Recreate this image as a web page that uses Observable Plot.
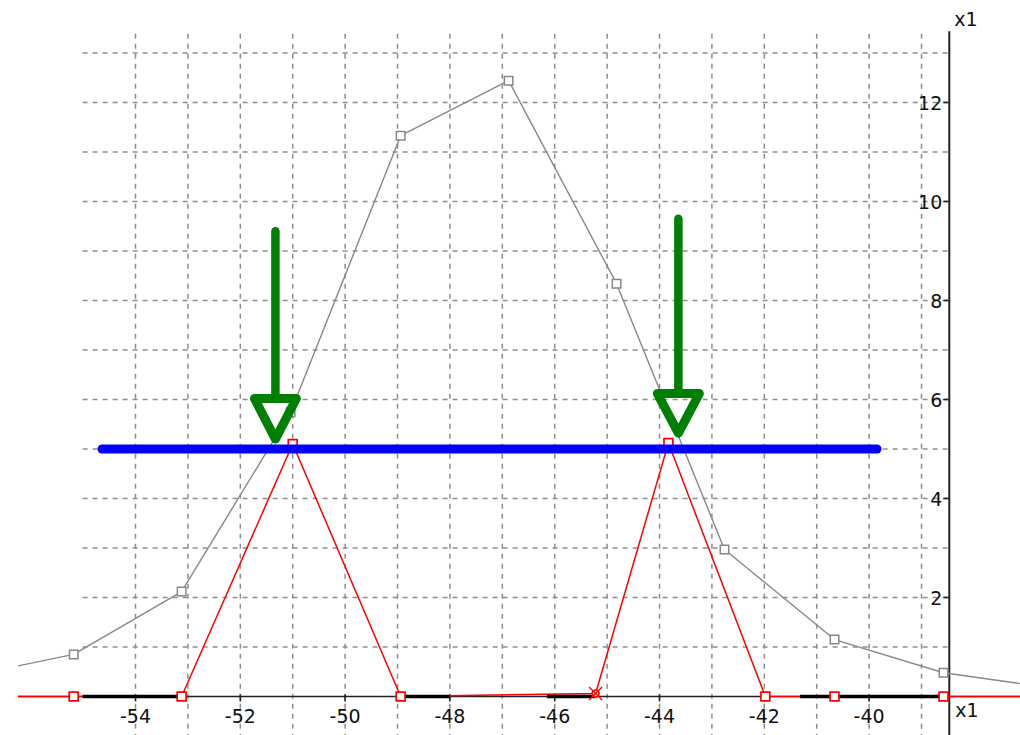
<!DOCTYPE html>
<html>
<head>
<meta charset="utf-8">
<script src="https://cdn.jsdelivr.net/npm/d3@7"></script>
<script src="https://cdn.jsdelivr.net/npm/@observablehq/plot@0.6"></script>
<style>
  html, body { margin: 0; padding: 0; background: #fff; }
</style>
</head>
<body>
<div id="chart"></div>
<script>
// ---- data ----
const grayX = [-57.24, -55.18, -53.12, -51.04, -48.94, -46.88, -44.82, -42.76, -40.66, -38.58, -36.52];
const grayY = [0.40, 0.85, 2.12, 5.74, 11.33, 12.44, 8.34, 2.97, 1.15, 0.48, 0.17];

const redX = [-57.24, -55.18, -53.12, -51.00, -48.94, -45.22, -43.83, -41.98, -40.66, -38.58, -36.52];
const redY = [0, 0, 0, 5.10, 0, 0.06, 5.12, 0, 0, 0, 0];
const redMarker = ["square", "square", "square", "square", "square", "cross", "square", "square", "square", "square", "square"];

const blackStart = [-55.00, -48.94, -46.14, -41.31];
const blackEnd   = [-53.12, -48.00, -45.22, -38.50];

const blueLevel = 5;
const blueStart = -54.63;
const blueEnd = -39.84;

const arrowX    = [-51.33, -43.64];
const arrowTop  = [9.39, 9.64];
const arrowBase = [6.02, 6.12];
const arrowTip  = [5.20, 5.32];
const arrowHalf = 0.40;

const xGrid = d3.range(-54, -38, 1);        // -54 .. -39
const yGrid = d3.range(1, 14, 1);           // 1 .. 13
const xTicks = [-54, -52, -50, -48, -46, -44, -42, -40];
const yTicks = [2, 4, 6, 8, 10, 12];
const axisLabel = "x1";
const yAxisAt = -38.47;
const yAxisTop = 13.43;
const gridTop = 13.38;
const gridLeft = -55;

const xDomain = [-56.233, -37.111];
const yDomain = [-0.788, 14.06];

// ---- tables ----
const gray = grayX.map((x, i) => ({x, y: grayY[i]}));
const red = redX.map((x, i) => ({x, y: redY[i], m: redMarker[i]}));
const blacks = blackStart.map((s, i) => ({s, e: blackEnd[i]}));
const arrows = arrowX.map((x, i) => ({x, top: arrowTop[i], base: arrowBase[i], tip: arrowTip[i], id: i}));
const heads = arrows.flatMap(a => [
  {id: a.id, x: a.x - arrowHalf, y: a.base},
  {id: a.id, x: a.x + arrowHalf, y: a.base},
  {id: a.id, x: a.x, y: a.tip}
]);

const gridStyle = {stroke: "#8e8e8e", strokeWidth: 1.5, strokeDasharray: "5,5"};
const green = "#008000";
const fmt = d => String(d); // hyphen-minus like the original

const chart = Plot.plot({
  width: 1020,
  height: 735,
  marginTop: 0,
  marginRight: 0,
  marginBottom: 0,
  marginLeft: 18,
  style: {fontFamily: "DejaVu Sans, sans-serif", fontSize: "19px", background: "#fff"},
  x: {domain: xDomain, axis: null},
  y: {domain: yDomain, axis: null},
  marks: [
    // grid
    Plot.ruleX(xGrid, {x: d => d, y1: gridTop, y2: yDomain[0], ...gridStyle}),
    Plot.ruleY(yGrid, {y: d => d, x1: gridLeft, x2: yAxisAt, ...gridStyle}),
    // axes
    Plot.ruleY([0], {stroke: "#222", strokeWidth: 1.6}),
    Plot.ruleX([yAxisAt], {y1: yAxisTop, y2: yDomain[0], stroke: "#222", strokeWidth: 2}),
    Plot.ruleX(xTicks, {x: d => d, y1: 0.03, y2: -0.11, stroke: "#222", strokeWidth: 1.6}),
    Plot.ruleY(yTicks, {y: d => d, x1: yAxisAt - 0.1, x2: yAxisAt, stroke: "#222", strokeWidth: 1.6}),
    // series lines
    Plot.line(gray, {x: "x", y: "y", stroke: "#888", strokeWidth: 1.4, clip: true}),
    Plot.line(red, {x: "x", y: "y", stroke: "#ff0000", strokeWidth: 1.5, clip: true}),
    Plot.ruleY(blacks, {y: 0, x1: "s", x2: "e", stroke: "#000", strokeWidth: 3.4}),
    // markers
    Plot.dot(gray, {x: "x", y: "y", symbol: "square", r: 4.8, stroke: "#888", strokeWidth: 1.5, fill: "white", clip: true}),
    Plot.dot(red.filter(d => d.m === "square"), {x: "x", y: "y", symbol: "square", r: 5, stroke: "#ff0000", strokeWidth: 1.7, fill: "white", clip: true}),
    Plot.dot(red.filter(d => d.m === "cross"), {x: "x", y: "y", symbol: "circle", r: 3.5, stroke: "#ff0000", strokeWidth: 1.7, fill: "white"}),
    Plot.dot(red.filter(d => d.m === "cross"), {x: "x", y: "y", symbol: "times", r: 6, stroke: "#ff0000", strokeWidth: 1.3}),
    // blue level line
    Plot.ruleY([blueLevel], {y: d => d, x1: blueStart, x2: blueEnd, stroke: "#0000ff", strokeWidth: 9, strokeLinecap: "round"}),
    // green arrows
    Plot.ruleX(arrows, {x: "x", y1: "top", y2: "base", stroke: green, strokeWidth: 8.5, strokeLinecap: "round"}),
    Plot.line(heads, {x: "x", y: "y", z: "id", curve: "linear-closed", stroke: green, strokeWidth: 9, strokeLinejoin: "round", fill: "none"}),
    // tick labels
    Plot.text(xTicks, {x: d => d, y: 0, dy: 20, text: fmt, fill: "#111", fontSize: 19}),
    Plot.text(yTicks, {x: yAxisAt, y: d => d, dx: -7, dy: 1, text: fmt, textAnchor: "end", fill: "#111", fontSize: 19}),
    Plot.text([axisLabel], {x: yAxisAt, y: yAxisTop, dx: 5, dy: -12, text: d => d, textAnchor: "start", fill: "#111", fontSize: 19}),
    Plot.text([axisLabel], {x: yAxisAt, y: 0, dx: 6, dy: 14, text: d => d, textAnchor: "start", fill: "#111", fontSize: 19})
  ]
});
document.getElementById("chart").appendChild(chart);
</script>
</body>
</html>
